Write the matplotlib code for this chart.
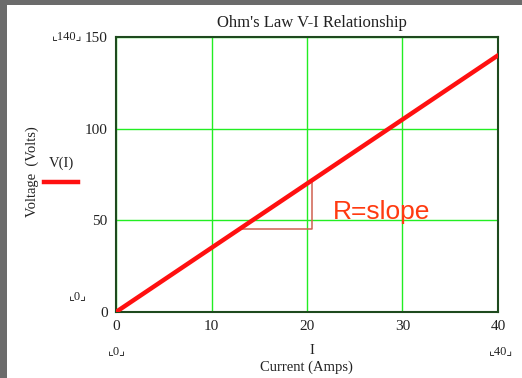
import matplotlib
matplotlib.use("Agg")
import matplotlib.pyplot as plt
from matplotlib.patches import Rectangle
from matplotlib.lines import Line2D

# Data
current = [0, 10, 20, 30, 40]
voltage = [0, 35, 70, 105, 140]
tri_current = [13.0, 20.5, 20.5]
tri_voltage = [45.3, 45.3, 72.0]
x_ticks = [0, 10, 20, 30, 40]
y_ticks = [0, 50, 100, 150]

W, H = 522, 378
fig = plt.figure(figsize=(W / 100, H / 100), dpi=100, facecolor="#6b6b6b")
fig.add_artist(Rectangle((7 / W, 0), 1 - 7 / W, (H - 5) / H, transform=fig.transFigure,
                         facecolor="white", edgecolor="none", zorder=0))

serif = ["Liberation Serif", "DejaVu Serif"]

ax = fig.add_axes([116 / W, (H - 312) / H, (498 - 116) / W, (312 - 37) / H])
ax.set_xlim(0, 40)
ax.set_ylim(0, 150)
ax.set_xticks(x_ticks)
ax.set_yticks(y_ticks)
ax.grid(True, color="#22ee22", linewidth=1.0)
ax.set_axisbelow(True)
for s in ax.spines.values():
    s.set_color("#1e4a1e")
    s.set_linewidth(1.5)
ax.tick_params(length=0, labelsize=11, pad=6)
for lab in ax.get_xticklabels() + ax.get_yticklabels():
    lab.set_family(serif)
    lab.set_color("#222222")

ax.plot(current, voltage, color="#ff1010", linewidth=3.2, solid_capstyle="round", zorder=3)
ax.plot(tri_current, tri_voltage, color="#d06050", linewidth=1.1, zorder=2)
ax.text(22.7, 54.5, "R=slope", color="#ff3a10", fontsize=19,
        family=["Liberation Sans", "DejaVu Sans"], va="center", ha="left")

fig.text(312 / W, 1 - 23 / H, "Ohm's Law V-I Relationship", ha="center", va="center",
         fontsize=12, family=serif, color="#222222")
fig.text(312 / W, 1 - 351 / H, "I", ha="center", va="center", fontsize=10.5,
         family=serif, color="#222222")
fig.text(306 / W, 1 - 367 / H, "Current (Amps)", ha="center", va="center", fontsize=10.5,
         family=serif, color="#222222")
fig.text(32 / W, 1 - 172 / H, "Voltage  (Volts)", ha="center", va="center", rotation=90,
         fontsize=10.5, family=serif, color="#222222")
fig.text(61 / W, 1 - 163 / H, "V(I)", ha="center", va="center", fontsize=10.5,
         family=serif, color="#222222")
fig.add_artist(Line2D([44 / W, 78 / W], [1 - 182 / H, 1 - 182 / H], transform=fig.transFigure,
                      color="#ff1010", linewidth=3.2))

corner = ["Liberation Serif", "DejaVu Sans"]
for x, y, t in [(67, 36, "\u231e140\u231f"), (78, 296, "\u231e0\u231f"),
                (117, 351, "\u231e0\u231f"), (501, 351, "\u231e40\u231f")]:
    fig.text(x / W, 1 - y / H, t, ha="center", va="center", fontsize=9,
             family=corner, color="#222222")

fig.savefig("out.png", dpi=100, facecolor=fig.get_facecolor())
